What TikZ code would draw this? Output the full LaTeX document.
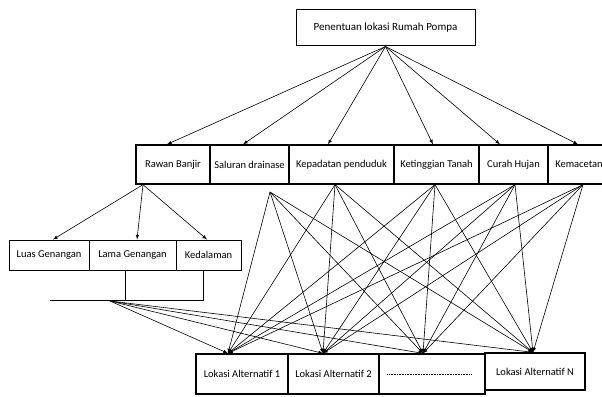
\documentclass[tikz,border=0pt]{standalone}
\usepackage{fontspec}
\setmainfont{Carlito}
\usetikzlibrary{arrows,shapes,positioning}

\begin{document}
\begin{tikzpicture}[x=1pt,y=-1pt,
  box/.style={draw,rectangle,inner sep=1pt,font=\fontsize{10.5}{12}\selectfont},
  crit/.style={box,line width=1.3pt,minimum height=39pt},
  subc/.style={box,line width=1pt,minimum height=30pt},
  alt/.style={box,line width=1.3pt,minimum height=40pt},
  arr/.style={-latex,line width=.6pt}]
\useasboundingbox (0,0) rectangle (602,396);
%goal
\node[box,line width=1pt,minimum width=179pt,minimum height=36pt,font=\fontsize{11}{13}\selectfont] (penentuan) at (385.5,28) {Penentuan lokasi Rumah Pompa};
%criteria
\node[crit,minimum width=74pt] (rawan) at (173,164.5) {Rawan Banjir};
\node[crit,minimum width=79pt] (saluran) at (249.5,164.5) {Saluran drainase};
\node[crit,minimum width=105pt] (kepadatan) at (341.5,164.5) {Kepadatan penduduk};
\node[crit,minimum width=85pt] (ketinggian) at (436.5,164.5) {Ketinggian Tanah};
\node[crit,minimum width=69pt] (curah) at (513.5,164.5) {Curah Hujan};
\node[crit,minimum width=62pt] (kemacetan) at (579,164.5) {Kemacetan};
%sub criteria of rawan banjir
\node[subc,minimum width=80pt] (luas) at (49,255) {Luas Genangan};
\node[subc,minimum width=87pt] (lama) at (132.5,255) {Lama Genangan};
\node[subc,minimum width=65pt] (kedalaman) at (208.5,255) {Kedalaman};
%alternatives
\node[alt,minimum width=92pt] (alt1) at (242,374) {Lokasi Alternatif 1};
\node[alt,minimum width=91pt] (alt2) at (333.5,374) {Lokasi Alternatif 2};
\node[alt,minimum width=106pt] (altdots) at (432,374) {};
\node[alt,minimum width=100pt,minimum height=37pt] (altN) at (535,371.5) {Lokasi Alternatif N};
\draw[densely dotted,line width=.6pt] ([xshift=9pt]altdots.west) -- ([xshift=-15pt]altdots.east);
%goal to criteria
\draw[arr] (penentuan.south) -- ([xshift=-6pt]rawan.north); \draw[arr] (penentuan.south) -- ([xshift=-6.5pt]saluran.north);
\draw[arr] (penentuan.south) -- ([xshift=-13.5pt]kepadatan.north); \draw[arr] (penentuan.south) -- ([xshift=-3.5pt]ketinggian.north);
\draw[arr] (penentuan.south) -- ([xshift=-13.5pt]curah.north); \draw[arr] (penentuan.south) -- ([xshift=-1pt]kemacetan.north);
%rawan banjir to its sub criteria
\draw[arr] ([xshift=-30pt]rawan.south) -- ([xshift=4pt]luas.north);
\draw[arr] ([xshift=-30pt]rawan.south) -- ([xshift=4.5pt]lama.north);
\draw[arr] ([xshift=-30pt]rawan.south) -- ([xshift=-1.5pt]kedalaman.north);
%bracket under sub criteria
\coordinate (brl) at (50,300); \coordinate (sub) at (110,301);
\draw[line width=.8pt] ([xshift=-7.5pt]lama.south) |- (brl); \draw[line width=.8pt] ([xshift=-5.5pt]kedalaman.south) |- (brl);
%arrow points on alternatives
\coordinate (t1) at ([xshift=-14pt]alt1.north); \coordinate (t2) at ([xshift=-10.5pt]alt2.north);
\coordinate (t3) at ([xshift=-9pt]altdots.north); \coordinate (t4) at ([xshift=-2pt]altN.north);
%criteria to alternatives
\coordinate (saluran-o) at (270,192);
\draw[arr] (sub) -- (t1); \draw[arr] (sub) -- (t2); \draw[arr] (sub) -- (t3); \draw[arr] (sub) -- (t4);
\draw[arr] (saluran-o) -- (t1); \draw[arr] (saluran-o) -- (t2); \draw[arr] (saluran-o) -- (t3); \draw[arr] (saluran-o) -- (t4);
\draw[arr] ([xshift=-6.5pt]kepadatan.south) -- (t1); \draw[arr] ([xshift=-6.5pt]kepadatan.south) -- (t2); \draw[arr] ([xshift=-6.5pt]kepadatan.south) -- (t3); \draw[arr] ([xshift=-6.5pt]kepadatan.south) -- (t4);
\draw[arr] ([xshift=-1.5pt]ketinggian.south) -- (t1); \draw[arr] ([xshift=-1.5pt]ketinggian.south) -- (t2); \draw[arr] ([xshift=-1.5pt]ketinggian.south) -- (t3); \draw[arr] ([xshift=-1.5pt]ketinggian.south) -- (t4);
\draw[arr] ([xshift=1.5pt]curah.south) -- (t1); \draw[arr] ([xshift=1.5pt]curah.south) -- (t2); \draw[arr] ([xshift=1.5pt]curah.south) -- (t3); \draw[arr] ([xshift=1.5pt]curah.south) -- (t4);
\draw[arr] ([xshift=4pt]kemacetan.south) -- (t1); \draw[arr] ([xshift=4pt]kemacetan.south) -- (t2); \draw[arr] ([xshift=4pt]kemacetan.south) -- (t3); \draw[arr] ([xshift=4pt]kemacetan.south) -- (t4);
\end{tikzpicture}
\end{document}
